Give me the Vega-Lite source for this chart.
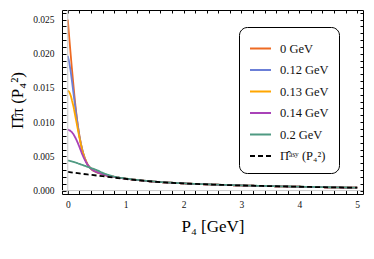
{
  "$schema": "https://vega.github.io/schema/vega-lite/v6.json",
  "width": 301,
  "height": 184,
  "autosize": "none",
  "padding": {"left": 62, "top": 10, "right": 11, "bottom": 65},
  "background": "white",
  "config": {
    "view": {"stroke": "black", "strokeWidth": 1},
    "font": "Liberation Serif",
    "axis": {"grid": false, "domain": false, "tickColor": "black", "labelColor": "#111", "titleColor": "black", "labelFont": "Liberation Serif", "titleFont": "Liberation Serif", "titleFontWeight": "normal"}
  },
  "datasets": {
    "curves": [
      {"s": "0 GeV", "x": 0, "y": 0.025}, {"s": "0 GeV", "x": 0.025, "y": 0.0224}, {"s": "0 GeV", "x": 0.05, "y": 0.0199}, {"s": "0 GeV", "x": 0.075, "y": 0.0175}, {"s": "0 GeV", "x": 0.1, "y": 0.0152}, {"s": "0 GeV", "x": 0.125, "y": 0.013}, {"s": "0 GeV", "x": 0.15, "y": 0.0111}, {"s": "0 GeV", "x": 0.2, "y": 0.0081}, {"s": "0 GeV", "x": 0.25, "y": 0.006}, {"s": "0 GeV", "x": 0.3, "y": 0.0046}, {"s": "0 GeV", "x": 0.35, "y": 0.0037}, {"s": "0 GeV", "x": 0.4, "y": 0.0032}, {"s": "0 GeV", "x": 0.5, "y": 0.0027}, {"s": "0 GeV", "x": 0.6, "y": 0.0024}, {"s": "0 GeV", "x": 0.7, "y": 0.00215}, {"s": "0 GeV", "x": 0.8, "y": 0.002}, {"s": "0 GeV", "x": 1, "y": 0.00175}, {"s": "0 GeV", "x": 1.25, "y": 0.0015}, {"s": "0 GeV", "x": 1.5, "y": 0.0013}, {"s": "0 GeV", "x": 2, "y": 0.00105}, {"s": "0 GeV", "x": 2.5, "y": 0.00088}, {"s": "0 GeV", "x": 3, "y": 0.00075}, {"s": "0 GeV", "x": 3.5, "y": 0.00065}, {"s": "0 GeV", "x": 4, "y": 0.00056}, {"s": "0 GeV", "x": 4.5, "y": 0.00048}, {"s": "0 GeV", "x": 5, "y": 0.00042},

      {"s": "0.12 GeV", "x": 0, "y": 0.0197}, {"s": "0.12 GeV", "x": 0.025, "y": 0.0187}, {"s": "0.12 GeV", "x": 0.05, "y": 0.0174}, {"s": "0.12 GeV", "x": 0.075, "y": 0.0158}, {"s": "0.12 GeV", "x": 0.1, "y": 0.0141}, {"s": "0.12 GeV", "x": 0.125, "y": 0.0125}, {"s": "0.12 GeV", "x": 0.15, "y": 0.0109}, {"s": "0.12 GeV", "x": 0.2, "y": 0.008}, {"s": "0.12 GeV", "x": 0.25, "y": 0.006}, {"s": "0.12 GeV", "x": 0.3, "y": 0.0046}, {"s": "0.12 GeV", "x": 0.35, "y": 0.0037}, {"s": "0.12 GeV", "x": 0.4, "y": 0.0032}, {"s": "0.12 GeV", "x": 0.5, "y": 0.0027}, {"s": "0.12 GeV", "x": 0.6, "y": 0.0024}, {"s": "0.12 GeV", "x": 0.7, "y": 0.00215}, {"s": "0.12 GeV", "x": 0.8, "y": 0.002}, {"s": "0.12 GeV", "x": 1, "y": 0.00175}, {"s": "0.12 GeV", "x": 1.25, "y": 0.0015}, {"s": "0.12 GeV", "x": 1.5, "y": 0.0013}, {"s": "0.12 GeV", "x": 2, "y": 0.00105}, {"s": "0.12 GeV", "x": 2.5, "y": 0.00088}, {"s": "0.12 GeV", "x": 3, "y": 0.00075}, {"s": "0.12 GeV", "x": 3.5, "y": 0.00065}, {"s": "0.12 GeV", "x": 4, "y": 0.00056}, {"s": "0.12 GeV", "x": 4.5, "y": 0.00048}, {"s": "0.12 GeV", "x": 5, "y": 0.00042},

      {"s": "0.13 GeV", "x": 0, "y": 0.0146}, {"s": "0.13 GeV", "x": 0.025, "y": 0.0144}, {"s": "0.13 GeV", "x": 0.05, "y": 0.0139}, {"s": "0.13 GeV", "x": 0.075, "y": 0.0131}, {"s": "0.13 GeV", "x": 0.1, "y": 0.0122}, {"s": "0.13 GeV", "x": 0.125, "y": 0.0111}, {"s": "0.13 GeV", "x": 0.15, "y": 0.01}, {"s": "0.13 GeV", "x": 0.2, "y": 0.0078}, {"s": "0.13 GeV", "x": 0.25, "y": 0.0059}, {"s": "0.13 GeV", "x": 0.3, "y": 0.0046}, {"s": "0.13 GeV", "x": 0.35, "y": 0.0037}, {"s": "0.13 GeV", "x": 0.4, "y": 0.0032}, {"s": "0.13 GeV", "x": 0.5, "y": 0.0027}, {"s": "0.13 GeV", "x": 0.6, "y": 0.0024}, {"s": "0.13 GeV", "x": 0.7, "y": 0.00215}, {"s": "0.13 GeV", "x": 0.8, "y": 0.002}, {"s": "0.13 GeV", "x": 1, "y": 0.00175}, {"s": "0.13 GeV", "x": 1.25, "y": 0.0015}, {"s": "0.13 GeV", "x": 1.5, "y": 0.0013}, {"s": "0.13 GeV", "x": 2, "y": 0.00105}, {"s": "0.13 GeV", "x": 2.5, "y": 0.00088}, {"s": "0.13 GeV", "x": 3, "y": 0.00075}, {"s": "0.13 GeV", "x": 3.5, "y": 0.00065}, {"s": "0.13 GeV", "x": 4, "y": 0.00056}, {"s": "0.13 GeV", "x": 4.5, "y": 0.00048}, {"s": "0.13 GeV", "x": 5, "y": 0.00042},

      {"s": "0.14 GeV", "x": 0, "y": 0.0089}, {"s": "0.14 GeV", "x": 0.05, "y": 0.0087}, {"s": "0.14 GeV", "x": 0.1, "y": 0.0082}, {"s": "0.14 GeV", "x": 0.15, "y": 0.0074}, {"s": "0.14 GeV", "x": 0.2, "y": 0.0064}, {"s": "0.14 GeV", "x": 0.25, "y": 0.0053}, {"s": "0.14 GeV", "x": 0.3, "y": 0.0044}, {"s": "0.14 GeV", "x": 0.35, "y": 0.0037}, {"s": "0.14 GeV", "x": 0.4, "y": 0.0032}, {"s": "0.14 GeV", "x": 0.5, "y": 0.0027}, {"s": "0.14 GeV", "x": 0.6, "y": 0.0024}, {"s": "0.14 GeV", "x": 0.7, "y": 0.00215}, {"s": "0.14 GeV", "x": 0.8, "y": 0.002}, {"s": "0.14 GeV", "x": 1, "y": 0.00175}, {"s": "0.14 GeV", "x": 1.25, "y": 0.0015}, {"s": "0.14 GeV", "x": 1.5, "y": 0.0013}, {"s": "0.14 GeV", "x": 2, "y": 0.00105}, {"s": "0.14 GeV", "x": 2.5, "y": 0.00088}, {"s": "0.14 GeV", "x": 3, "y": 0.00075}, {"s": "0.14 GeV", "x": 3.5, "y": 0.00065}, {"s": "0.14 GeV", "x": 4, "y": 0.00056}, {"s": "0.14 GeV", "x": 4.5, "y": 0.00048}, {"s": "0.14 GeV", "x": 5, "y": 0.00042},

      {"s": "0.2 GeV", "x": 0, "y": 0.0044}, {"s": "0.2 GeV", "x": 0.1, "y": 0.0042}, {"s": "0.2 GeV", "x": 0.2, "y": 0.0039}, {"s": "0.2 GeV", "x": 0.3, "y": 0.0036}, {"s": "0.2 GeV", "x": 0.4, "y": 0.0033}, {"s": "0.2 GeV", "x": 0.5, "y": 0.003}, {"s": "0.2 GeV", "x": 0.6, "y": 0.0026}, {"s": "0.2 GeV", "x": 0.7, "y": 0.0023}, {"s": "0.2 GeV", "x": 0.8, "y": 0.00205}, {"s": "0.2 GeV", "x": 1, "y": 0.00178}, {"s": "0.2 GeV", "x": 1.25, "y": 0.00152}, {"s": "0.2 GeV", "x": 1.5, "y": 0.00132}, {"s": "0.2 GeV", "x": 2, "y": 0.00106}, {"s": "0.2 GeV", "x": 2.5, "y": 0.00089}, {"s": "0.2 GeV", "x": 3, "y": 0.00076}, {"s": "0.2 GeV", "x": 3.5, "y": 0.00066}, {"s": "0.2 GeV", "x": 4, "y": 0.00057}, {"s": "0.2 GeV", "x": 4.5, "y": 0.00049}, {"s": "0.2 GeV", "x": 5, "y": 0.00043},

      {"s": "Π̂ᵃˢʸ (P₄²)", "x": 0, "y": 0.00275}, {"s": "Π̂ᵃˢʸ (P₄²)", "x": 0.2, "y": 0.0025}, {"s": "Π̂ᵃˢʸ (P₄²)", "x": 0.4, "y": 0.0023}, {"s": "Π̂ᵃˢʸ (P₄²)", "x": 0.6, "y": 0.0021}, {"s": "Π̂ᵃˢʸ (P₄²)", "x": 0.8, "y": 0.0019}, {"s": "Π̂ᵃˢʸ (P₄²)", "x": 1, "y": 0.0017}, {"s": "Π̂ᵃˢʸ (P₄²)", "x": 1.25, "y": 0.00148}, {"s": "Π̂ᵃˢʸ (P₄²)", "x": 1.5, "y": 0.0013}, {"s": "Π̂ᵃˢʸ (P₄²)", "x": 2, "y": 0.00105}, {"s": "Π̂ᵃˢʸ (P₄²)", "x": 2.5, "y": 0.00088}, {"s": "Π̂ᵃˢʸ (P₄²)", "x": 3, "y": 0.00075}, {"s": "Π̂ᵃˢʸ (P₄²)", "x": 3.5, "y": 0.00065}, {"s": "Π̂ᵃˢʸ (P₄²)", "x": 4, "y": 0.00056}, {"s": "Π̂ᵃˢʸ (P₄²)", "x": 4.5, "y": 0.00048}, {"s": "Π̂ᵃˢʸ (P₄²)", "x": 5, "y": 0.00042}
    ],
    "zeros": [{"x": 0, "y": 0}]
  },
  "resolve": {"scale": {"x": "shared", "y": "shared", "color": "shared", "strokeDash": "shared"}, "axis": {"x": "independent", "y": "independent"}},
  "layer": [
    {
      "data": {"name": "curves"},
      "mark": {"type": "line", "strokeWidth": 1.8, "interpolate": "monotone"},
      "encoding": {
        "x": {"field": "x", "type": "quantitative", "scale": {"domain": [-0.1, 5.1], "nice": false, "zero": false},
          "axis": {"orient": "bottom", "values": [0, 0.2, 0.4, 0.6, 0.8, 1, 1.2, 1.4, 1.6, 1.8, 2, 2.2, 2.4, 2.6, 2.8, 3, 3.2, 3.4, 3.6, 3.8, 4, 4.2, 4.4, 4.6, 4.8, 5],
            "labelExpr": "abs(round(datum.value) - datum.value) < 1e-6 ? format(datum.value, 'd') : ''",
            "tickSize": -4, "labelPadding": 9, "labelFontSize": 9.5, "labelFlush": false, "labelOverlap": false,
            "title": "P₄ [GeV]", "titleFontSize": 17, "titleY": 32, "titleBaseline": "middle"}},
        "y": {"field": "y", "type": "quantitative", "scale": {"domain": [-0.0005, 0.0264], "nice": false, "zero": false},
          "axis": {"orient": "left", "values": [0, 0.001, 0.002, 0.003, 0.004, 0.005, 0.006, 0.007, 0.008, 0.009, 0.01, 0.011, 0.012, 0.013, 0.014, 0.015, 0.016, 0.017, 0.018, 0.019, 0.02, 0.021, 0.022, 0.023, 0.024, 0.025, 0.026],
            "labelExpr": "abs(round(datum.value*200) - datum.value*200) < 1e-6 ? format(datum.value, '.3f') : ''",
            "tickSize": -4, "labelPadding": 12, "labelFontSize": 9.5, "labelFlush": false, "labelOverlap": false,
            "title": "Π̂π (P₄²)", "titleFontSize": 17, "titleX": -45, "titleY": 90, "titleAlign": "center", "titleBaseline": "middle", "titleAngle": -90}},
        "color": {"field": "s", "type": "nominal",
          "scale": {"domain": ["0 GeV", "0.12 GeV", "0.13 GeV", "0.14 GeV", "0.2 GeV", "Π̂ᵃˢʸ (P₄²)"], "range": ["#EE6A22", "#6B7FD7", "#FFA600", "#A942B8", "#4F9A82", "#000000"]},
          "legend": {"title": null, "orient": "none", "legendX": 177, "legendY": 17, "symbolType": "stroke", "symbolSize": 441, "symbolStrokeWidth": 2, "labelFont": "Liberation Serif", "labelFontSize": 12.5, "labelColor": "#111", "rowPadding": 3.5, "padding": 10, "strokeColor": "black", "cornerRadius": 8, "fillColor": "white", "labelOffset": 8}},
        "strokeDash": {"field": "s", "type": "nominal",
          "scale": {"domain": ["0 GeV", "0.12 GeV", "0.13 GeV", "0.14 GeV", "0.2 GeV", "Π̂ᵃˢʸ (P₄²)"], "range": [[1, 0], [1, 0], [1, 0], [1, 0], [1, 0], [5, 3]]},
          "legend": {"title": null, "orient": "none", "legendX": 177, "legendY": 17}}
      }
    },
    {
      "data": {"name": "zeros"},
      "mark": {"type": "rule", "color": "#c8c8c8", "strokeWidth": 1},
      "encoding": {"x": {"field": "x", "type": "quantitative", "scale": {"domain": [-0.1, 5.1], "nice": false, "zero": false}, "axis": null}}
    },
    {
      "data": {"name": "zeros"},
      "mark": {"type": "rule", "color": "#c8c8c8", "strokeWidth": 1},
      "encoding": {"y": {"field": "y", "type": "quantitative", "scale": {"domain": [-0.0005, 0.0264], "nice": false, "zero": false}, "axis": null}}
    },
    {
      "data": {"name": "zeros"},
      "mark": {"type": "point", "opacity": 0},
      "encoding": {
        "x": {"field": "x", "type": "quantitative", "scale": {"domain": [-0.1, 5.1], "nice": false, "zero": false},
          "axis": {"orient": "top", "values": [0, 0.2, 0.4, 0.6, 0.8, 1, 1.2, 1.4, 1.6, 1.8, 2, 2.2, 2.4, 2.6, 2.8, 3, 3.2, 3.4, 3.6, 3.8, 4, 4.2, 4.4, 4.6, 4.8, 5], "labels": false, "tickSize": -3, "title": null}},
        "y": {"field": "y", "type": "quantitative", "scale": {"domain": [-0.0005, 0.0264], "nice": false, "zero": false},
          "axis": {"orient": "right", "values": [0, 0.001, 0.002, 0.003, 0.004, 0.005, 0.006, 0.007, 0.008, 0.009, 0.01, 0.011, 0.012, 0.013, 0.014, 0.015, 0.016, 0.017, 0.018, 0.019, 0.02, 0.021, 0.022, 0.023, 0.024, 0.025, 0.026], "labels": false, "tickSize": -3, "title": null}}
      }
    }
  ]
}
